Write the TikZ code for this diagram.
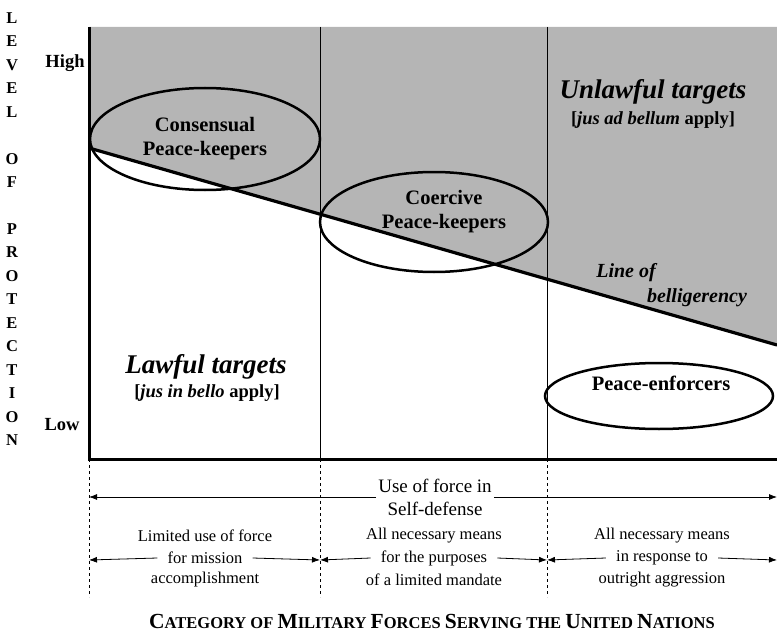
\documentclass[tikz,border=0pt]{standalone}
\usepackage{fontspec}
\setmainfont{Liberation Serif}
\usetikzlibrary{shapes.geometric,arrows.meta}

\newcommand{\fsz}[2]{\fontsize{#1}{#2}\selectfont}
\newcommand{\capsc}[2]{{\fontsize{21.5}{24}\selectfont #1}{\fontsize{16.5}{20}\selectfont #2}}

\tikzset{
  zone/.style={ellipse,draw,line width=2.5pt,inner sep=0pt},
  force/.style={font=\fsz{20.5}{24}\bfseries,align=center},
  target/.style={font=\fsz{27}{30}\bfseries\itshape},
  law/.style={font=\fsz{18.5}{20}\bfseries},
  note/.style={font=\fsz{16.5}{22},align=center},
  tip/.style={-{Latex[length=8pt,width=6pt]},line width=0.8pt},
  divider/.style={line width=0.8pt},
  axis/.style={line width=3pt}
}

\begin{document}
\begin{tikzpicture}[x=1pt,y=-1pt]
\useasboundingbox (0,0) rectangle (777,634);
\coordinate (top) at (89,27);
\coordinate (O) at (89,459);
\coordinate (BL) at (89,148);
\coordinate (BR) at (777,345);
% shaded zone above the line
\fill[black!29] (top) -- (777,27) -- (BR) -- (BL) -- cycle;

\foreach \x in {320,547} {
  \draw[divider] (\x,27) -- (\x,459);
  \draw[divider,dashed] (\x,459) -- (\x,597);
}
\draw[divider,dashed] (O) -- (89,597);

\draw[line width=3.2pt] (BL) -- (BR);
\draw[axis] (top) -- (O) -- (777,459);

% vertical title
\foreach \l [count=\n] in {L,E,V,E,L,{},O,F,{},P,R,O,T,E,C,T,I,O,N}
  \node[font=\fsz{16.5}{16}\bfseries] (v\n) at (12,{18+23.45*(\n-1)}) {\l};
\node[font=\fsz{18.5}{20}\bfseries] (high) at (65,63) {High};
\node[font=\fsz{18.5}{20}\bfseries] (low) at (62,425) {Low};

% forces
\node[zone,minimum width=230,minimum height=102] (consensual) at (205,139) {};
\node[force] (consensualtxt) at (205,139) {Consensual\\Peace-keepers};
\node[zone,minimum width=228,minimum height=100] (coercive) at (434,222) {};
\node[force] (coercivetxt) at (444,212) {Coercive\\Peace-keepers};
\node[zone,minimum width=228,minimum height=66] (enforcers) at (659,396) {};
\node[force] (enforcerstxt) at (661,383) {Peace-enforcers};

\node[target] (unlawful) at (653,92) {Unlawful targets};
\node[law] (adbellum) at (653,120) {[\textit{jus ad bellum} apply]};
\node[target] (lawful) at (206,367) {Lawful targets};
\node[law] (inbello) at (207,393) {[\textit{jus in bello} apply]};
\node[force,font=\fsz{20}{24}\bfseries\itshape] (lineof) at (626,273) {Line of};
\node[force,font=\fsz{20}{24}\bfseries\itshape] (bellig) at (697,298) {belligerency};

% use of force
\coordinate (r1l) at (89,497);
\coordinate (r1r) at (777,497);
\node[note,font=\fsz{19}{23},inner xsep=2pt] (selfdef) at (435,497) {Use of force in\\Self-defense};
\draw[tip] (selfdef.west) -- (r1l);
\draw[tip] (selfdef.east) -- (r1r);

\foreach \a/\b/\c/\up/\mid/\dn [count=\n] in
   {89/320/205/Limited use of force/for mission/accomplishment,
    320/547/434/All necessary means/for the purposes/of a limited mandate,
    547/777/662/All necessary means/in response to/outright aggression} {
  \coordinate (sl\n) at (\a,560);
  \coordinate (sr\n) at (\b,560);
  \node[note] (up\n) at (\c,536) {\up};
  \node[note,inner xsep=10pt] (mid\n) at (\c,558) {\mid};
  \node[note] (dn\n) at (\c,580) {\dn};
  \draw[tip] (mid\n.west) -- (sl\n);
  \draw[tip] (mid\n.east) -- (sr\n);
}

\node[font=\fsz{16.5}{20}\bfseries,inner sep=0pt] (caption) at (432,622)
  {\capsc{C}{ATEGORY} \capsc{}{OF} \capsc{M}{ILITARY} \capsc{F}{ORCES} \capsc{S}{ERVING} \capsc{}{THE} \capsc{U}{NITED} \capsc{N}{ATIONS}};
\end{tikzpicture}
\end{document}
